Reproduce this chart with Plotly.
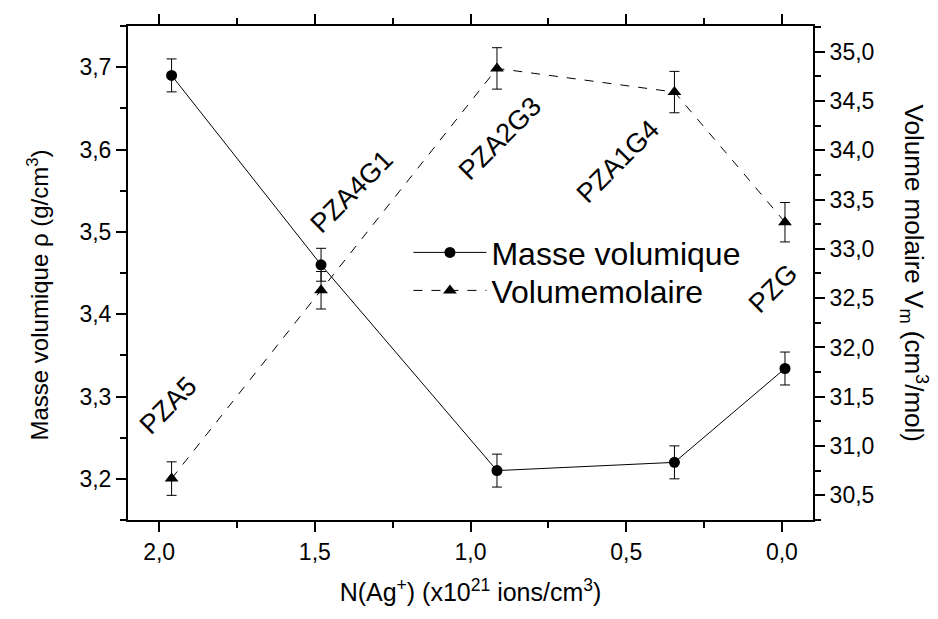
import plotly.graph_objects as go

# Data
samples = ["PZA5", "PZA4G1", "PZA2G3", "PZA1G4", "PZG"]
n_ag = [1.96, 1.48, 0.915, 0.345, -0.01]
masse_volumique = [3.690, 3.460, 3.210, 3.220, 3.334]
masse_err = [0.02, 0.02, 0.02, 0.02, 0.02]
volume_molaire = [30.67, 32.58, 34.83, 34.59, 33.27]
volume_err = [0.17, 0.19, 0.21, 0.21, 0.20]

# label anchor positions (data coords on left axis)
label_x = [1.97, 1.379, 0.904, 0.525, 0.027]
label_y = [3.29, 3.549, 3.614, 3.586, 3.432]

FONT = "Liberation Sans, Arial, sans-serif"

fig = go.Figure()
fig.add_trace(go.Scatter(
    x=n_ag, y=masse_volumique, name="Masse volumique",
    mode="lines+markers",
    line=dict(color="black", width=1, dash="solid"),
    marker=dict(symbol="circle", size=11, color="black"),
    error_y=dict(type="data", array=masse_err, visible=True,
                 color="black", thickness=1, width=5),
    yaxis="y", legend="legend",
))
fig.add_trace(go.Scatter(
    x=n_ag, y=volume_molaire, name="Volumemolaire",
    mode="lines+markers",
    line=dict(color="black", width=1, dash="dash"),
    marker=dict(symbol="triangle-up", size=12, color="black"),
    error_y=dict(type="data", array=volume_err, visible=True,
                 color="black", thickness=1, width=5),
    yaxis="y2", legend="legend2",
))

for s, lx, ly in zip(samples, label_x, label_y):
    fig.add_annotation(x=lx, y=ly, xref="x", yref="y", text=s,
                       showarrow=False, textangle=-45,
                       font=dict(family=FONT, size=27, color="black"))

# axis titles for the two vertical axes
fig.add_annotation(x=-0.131, y=0.455, xref="paper", yref="paper",
                   xanchor="center", yanchor="middle",
                   text="Masse volumique ρ (g/cm<sup>3</sup>)",
                   showarrow=False, textangle=-90,
                   font=dict(family=FONT, size=24, color="black"))
fig.add_annotation(x=1.148, y=0.50, xref="paper", yref="paper",
                   xanchor="center", yanchor="middle",
                   text="Volume molaire V<sub>m</sub> (cm<sup>3</sup>/mol)",
                   showarrow=False, textangle=90,
                   font=dict(family=FONT, size=26, color="black"))

axis_common = dict(showgrid=False, zeroline=False, showline=True,
                   linecolor="black", linewidth=2, ticks="outside",
                   tickcolor="black", tickwidth=2, ticklen=10,
                   tickfont=dict(family=FONT, size=23, color="black"))

legend_common = dict(xanchor="left", yanchor="top",
                     bgcolor="rgba(0,0,0,0)", borderwidth=0,
                     font=dict(family=FONT, size=32, color="black"),
                     itemwidth=73)

fig.update_layout(
    width=938, height=619,
    margin=dict(l=120, r=133, t=6, b=107),
    plot_bgcolor="white", paper_bgcolor="white",
    separators=", ",
    font=dict(family=FONT, color="black"),
    xaxis=dict(range=[2.1, -0.1], dtick=0.5, tick0=0, tickformat=".1f",
               mirror="ticks",
               minor=dict(dtick=0.25, ticks="outside", ticklen=6,
                          tickcolor="black", tickwidth=2),
               title=dict(text="N(Ag<sup>+</sup>) (x10<sup>21</sup> ions/cm<sup>3</sup>)",
                          font=dict(family=FONT, size=25), standoff=20),
               **axis_common),
    yaxis=dict(range=[3.15, 3.75], dtick=0.1, tick0=0, tickformat=".1f",
               minor=dict(dtick=0.05, ticks="outside", ticklen=6,
                          tickcolor="black", tickwidth=2),
               **axis_common),
    yaxis2=dict(range=[30.25, 35.26], dtick=0.5, tick0=0, tickformat=".1f",
                overlaying="y", side="right",
                minor=dict(dtick=0.25, ticks="outside", ticklen=6,
                           tickcolor="black", tickwidth=2),
                **axis_common),
    legend=dict(x=0.4094, y=0.597, **legend_common),
    legend2=dict(x=0.4094, y=0.520, **legend_common),
    showlegend=True,
)

fig.write_html("out.html")
